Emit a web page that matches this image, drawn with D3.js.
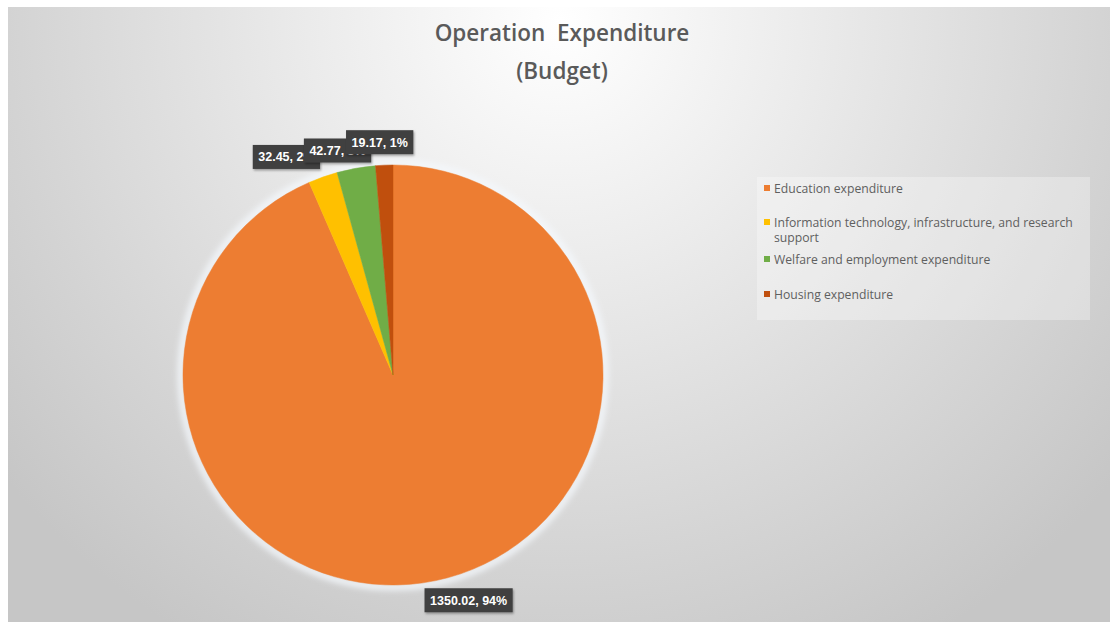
<!DOCTYPE html>
<html>
<head>
<meta charset="utf-8">
<script src="https://cdn.jsdelivr.net/npm/d3@7"></script>
<style>
  html, body { margin: 0; padding: 0; background: #ffffff; }
  svg { display: block; }
</style>
</head>
<body>
<svg id="chart" width="1110" height="622"></svg>
<script>
// Operation expenditure budget, by category
const categories = [
  "Education expenditure",
  "Information technology, infrastructure, and research support",
  "Welfare and employment expenditure",
  "Housing expenditure"
];
const values = [1350.02, 32.45, 42.77, 19.17];
const percentLabels = ["94%", "2%", "3%", "1%"];
const colors = ["#ED7D31", "#FFC000", "#70AD47", "#C0500F"];
const titleLines = ["Operation  Expenditure", "(Budget)"];

// Layout
const W = 1110, H = 622;
const frame = { x: 8, y: 7 };
const cx = 393, cy = 375, R = 210;
// small nudges so the crowded data labels sit clear of each other
const labelNudge = [[23, 4], [-24, -5], [-12, -2], [-3, -7]];

const svg = d3.select("#chart");
const defs = svg.append("defs");

const bg = defs.append("radialGradient")
  .attr("id", "bgGrad")
  .attr("gradientUnits", "userSpaceOnUse")
  .attr("cx", 560).attr("cy", 20).attr("r", 720);
bg.append("stop").attr("offset", 0).attr("stop-color", "#ffffff");
bg.append("stop").attr("offset", 0.35).attr("stop-color", "#ebebeb");
bg.append("stop").attr("offset", 0.75).attr("stop-color", "#d4d4d4");
bg.append("stop").attr("offset", 1).attr("stop-color", "#c6c6c6");

const glow = defs.append("filter").attr("id", "glow")
  .attr("x", "-20%").attr("y", "-20%").attr("width", "140%").attr("height", "140%");
glow.append("feGaussianBlur").attr("stdDeviation", 3);

const soft = defs.append("filter").attr("id", "soft");
soft.append("feGaussianBlur").attr("stdDeviation", 0.5);

const shadow = defs.append("filter").attr("id", "boxShadow")
  .attr("x", "-20%").attr("y", "-30%").attr("width", "140%").attr("height", "170%");
shadow.append("feDropShadow").attr("dx", 1).attr("dy", 1.5).attr("stdDeviation", 1.2)
  .attr("flood-color", "#000").attr("flood-opacity", 0.35);

// chart area background
svg.append("rect")
  .attr("x", frame.x).attr("y", frame.y)
  .attr("width", W - frame.x).attr("height", H - frame.y)
  .attr("fill", "url(#bgGrad)");

// title
const title = svg.append("text")
  .attr("text-anchor", "middle")
  .attr("font-family", "'Open Sans', 'Noto Sans', sans-serif")
  .attr("font-size", 22.5)
  .attr("font-weight", 600)
  .attr("fill", "#5a5a5a");
titleLines.forEach((t, i) => {
  title.append("tspan")
    .attr("x", 562)
    .attr("y", 41 + i * 38)
    .style("white-space", "pre")
    .text(t);
});

// pie
const pie = d3.pie().sort(null).value(d => d)(values);
const arc = d3.arc().innerRadius(0).outerRadius(R);

const g = svg.append("g").attr("transform", `translate(${cx},${cy})`);

g.append("circle")
  .attr("r", R + 2)
  .attr("fill", "none")
  .attr("stroke", "#f4f8fc")
  .attr("stroke-width", 6)
  .attr("filter", "url(#glow)");

g.selectAll("path.slice")
  .data(pie)
  .join("path")
  .attr("class", "slice")
  .attr("d", arc)
  .attr("fill", (d, i) => colors[i])
  .attr("stroke", (d, i) => colors[i])
  .attr("stroke-width", 0.5)
  .attr("filter", "url(#soft)");

// data labels: "value, percent" in dark callout boxes outside the rim
const labelFont = "'Liberation Sans', Arial, sans-serif";
const labelG = svg.append("g");
pie.forEach((d, i) => {
  const a = (d.startAngle + d.endAngle) / 2;
  const rr = R + 4;
  const px = cx + Math.sin(a) * rr;
  const py = cy - Math.cos(a) * rr;
  const lg = labelG.append("g");
  const txt = lg.append("text")
    .attr("font-family", labelFont)
    .attr("font-size", 12.5)
    .attr("font-weight", "bold")
    .attr("fill", "#ffffff")
    .attr("text-anchor", "middle")
    .attr("dominant-baseline", "central")
    .text(`${d3.format(".2f")(values[i])}, ${percentLabels[i]}`);
  const tw = txt.node().getComputedTextLength();
  const bw = tw + 11, bh = 24;
  const bx = px + Math.sin(a) * bw / 2 + labelNudge[i][0];
  const by = py - Math.cos(a) * bh / 2 + labelNudge[i][1];
  lg.insert("rect", "text")
    .attr("x", bx - bw / 2).attr("y", by - bh / 2)
    .attr("width", bw).attr("height", bh)
    .attr("fill", "#404040")
    .attr("filter", "url(#boxShadow)");
  txt.attr("x", bx).attr("y", by + 0.5);
});

// legend
const legend = svg.append("g");
legend.append("rect")
  .attr("x", 757).attr("y", 177)
  .attr("width", 333).attr("height", 143)
  .attr("fill", "#ffffff").attr("fill-opacity", 0.3);

const legendRows = [
  { y: 193, lines: ["Education expenditure"] },
  { y: 227, lines: ["Information technology, infrastructure, and research", "support"] },
  { y: 264, lines: ["Welfare and employment expenditure"] },
  { y: 299, lines: ["Housing expenditure"] }
];

categories.forEach((c, i) => {
  const row = legendRows[i];
  legend.append("rect")
    .attr("x", 764).attr("y", row.y - 8)
    .attr("width", 6).attr("height", 6)
    .attr("fill", colors[i]);
  const t = legend.append("text")
    .attr("font-family", "'Open Sans', 'Noto Sans', sans-serif")
    .attr("font-size", 12.2)
    .attr("fill", "#5f5f5f");
  row.lines.forEach((ln, j) => {
    t.append("tspan").attr("x", 774).attr("y", row.y + j * 15).text(ln);
  });
});
</script>
</body>
</html>
